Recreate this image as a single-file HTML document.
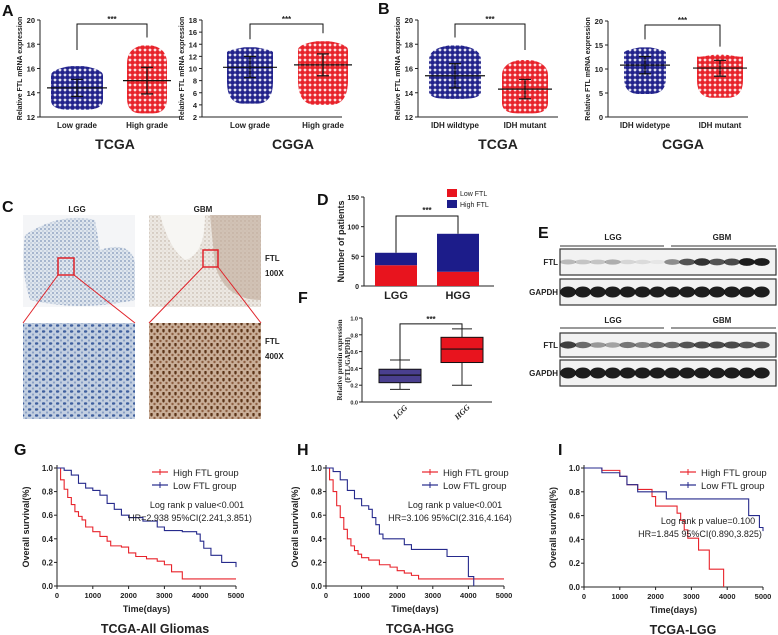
<!DOCTYPE html>
<html><head><meta charset="utf-8">
<style>
html,body{margin:0;padding:0;background:#fff;}
svg{display:block;font-family:"Liberation Sans",Arial,sans-serif;}
</style></head>
<body>
<svg id="fig" width="778" height="635" viewBox="0 0 778 635" xmlns="http://www.w3.org/2000/svg">
<defs>
<pattern id="dotB" width="5" height="5" patternUnits="userSpaceOnUse"><rect width="5" height="5" fill="#fff"/><circle cx="2.5" cy="2.5" r="2.5" fill="#22238c"/></pattern>
<pattern id="dotR" width="5" height="5" patternUnits="userSpaceOnUse"><rect width="5" height="5" fill="#fff"/><circle cx="2.5" cy="2.5" r="2.5" fill="#e8232b"/></pattern>
<pattern id="ihcB" width="4" height="4" patternUnits="userSpaceOnUse"><rect width="4" height="4" fill="#dfe6ee"/><circle cx="1" cy="1" r="0.9" fill="#7f95b8"/><circle cx="3" cy="3" r="0.7" fill="#a9b8cf"/></pattern>
<pattern id="ihcG" width="4" height="4" patternUnits="userSpaceOnUse"><rect width="4" height="4" fill="#ece8e2"/><circle cx="1" cy="1" r="0.7" fill="#b9a89a"/><circle cx="3" cy="3" r="0.5" fill="#d0c5bb"/></pattern>
<pattern id="ihcB4" width="7" height="6" patternUnits="userSpaceOnUse"><rect width="7" height="6" fill="#c3cfe0"/><ellipse cx="1.5" cy="1.5" rx="1.8" ry="1.2" fill="#3f5f9e"/><circle cx="5" cy="4.5" r="1.1" fill="#8aa0c6"/></pattern>
<pattern id="ihcG4" width="6" height="7" patternUnits="userSpaceOnUse"><rect width="6" height="7" fill="#c9ae98"/><ellipse cx="1.5" cy="1.5" rx="1.2" ry="2" fill="#5d3519"/><circle cx="4.5" cy="5" r="1.2" fill="#8d5f42"/></pattern>
</defs>
<g id="root"></g>
</svg>
<script>
// ---------- data ----------
// Panel A/B scatter summaries: [mean, lowerSD, upperSD, min, max]
const aTcgaCats = ["Low grade","High grade"];
const aTcgaStats = [[14.4,13.7,15.1,12.6,16.2],[15.0,13.9,16.1,12.3,17.9]];
const aCggaCats = ["Low grade","High grade"];
const aCggaStats = [[10.2,8.5,12.0,4.2,13.5],[10.6,8.8,12.4,4.0,14.5]];
const bTcgaCats = ["IDH wildtype","IDH mutant"];
const bTcgaStats = [[15.4,14.4,16.4,13.5,17.9],[14.3,13.5,15.1,12.3,16.7]];
const bCggaCats = ["IDH widetype","IDH mutant"];
const bCggaStats = [[10.8,9.0,12.6,4.8,14.5],[10.2,8.5,11.8,4.0,13.0]];
const aTcgaTicks = [12,14,16,18,20];
const aCggaTicks = [2,4,6,8,10,12,14,16,18];
const bCggaTicks = [0,5,10,15,20];
// Panel D
const dCats = ["LGG","HGG"];
const dLow = [35,24];
const dHigh = [21,64];
const dTicks = [0,50,100,150];
// Panel F box: [min,q1,median,q3,max]
const fCats = ["LGG","HGG"];
const fBox = [[0.15,0.23,0.32,0.39,0.50],[0.20,0.47,0.63,0.77,0.87]];
const fTicks = [0,0.2,0.4,0.6,0.8,1.0];
// KM curves
const gHighT=[0,100,200,300,400,500,600,700,800,1000,1200,1400,1500,1800,2000,2200,2500,2800,3000,3200,3500,5000];
const gHighS=[1,.9,.82,.75,.69,.63,.59,.56,.5,.46,.42,.38,.34,.33,.28,.25,.23,.21,.18,.12,.06,.06];
const gLowT=[0,200,400,600,800,1000,1200,1400,1600,1800,2000,2400,2800,3000,3500,3900,4000,4100,4300,4600,5000];
const gLowS=[1,.98,.94,.87,.83,.81,.77,.7,.65,.6,.58,.55,.5,.47,.46,.44,.38,.32,.26,.2,.16];
const hHighT=[0,100,200,300,400,500,600,700,800,900,1000,1200,1500,1800,2000,2200,2400,2600,5000];
const hHighS=[1,.9,.8,.68,.58,.48,.4,.34,.3,.27,.24,.22,.18,.16,.13,.11,.09,.06,.06];
const hLowT=[0,200,400,600,800,1000,1200,1300,1400,1500,1600,1800,2200,2400,2800,3400,4000,4100,4150];
const hLowS=[1,.97,.9,.81,.74,.68,.65,.58,.52,.44,.4,.4,.35,.31,.31,.25,.08,.08,0];
const iHighT=[0,500,1000,1200,1500,1900,2000,2600,2700,2800,2900,3200,3500,3900];
const iHighS=[1,.98,.93,.86,.82,.76,.68,.62,.56,.48,.41,.31,.15,0];
const iLowT=[0,500,1000,1200,1500,2300,4600,4900,5000];
const iLowS=[1,.96,.93,.86,.8,.74,.6,.5,.47];
const kmXTicks=[0,1000,2000,3000,4000,5000];
const kmYTicks=[0,0.2,0.4,0.6,0.8,1.0];

// ---------- helpers ----------
const NS="http://www.w3.org/2000/svg";
const root=document.getElementById('root');
function el(tag,attrs,parent,text){const e=document.createElementNS(NS,tag);for(const k in attrs)e.setAttribute(k,attrs[k]);if(text!==undefined)e.textContent=text;(parent||root).appendChild(e);return e;}
function grp(name,parent){const g=el('g',{},parent);return g;}
function txt(parent,x,y,s,opts,name){const o=Object.assign({x:x,y:y,'font-size':8,'font-weight':'bold','text-anchor':'middle',fill:'#222'},opts||{});const t=el('text',o,parent,s);return t;}
function lin(p,x1,y1,x2,y2,c,w){return el('line',{x1:x1,y1:y1,x2:x2,y2:y2,stroke:c||'#222','stroke-width':w||1},p);}

// ---------- scatter panel ----------
function scatter(name,ax,yTop,yBot,vmin,vmax,ticks,cats,stats,xs,widths,title,tx){
  const g=grp(name);
  const y=v=>yBot-(v-vmin)/(vmax-vmin)*(yBot-yTop);
  lin(g,ax,yTop,ax,yBot);
  lin(g,ax,yBot,ax+140,yBot);
  ticks.forEach(t=>{lin(g,ax-3,y(t),ax,y(t));txt(g,ax-5,y(t)+3,String(t),{'text-anchor':'end','font-size':7.5},'y-tick-label');});
  txt(g,0,0,'Relative FTL mRNA expression',{'font-size':7,transform:`translate(${ax-18},${(yTop+yBot)/2}) rotate(-90)`},'y-axis-title');
  stats.forEach((s,i)=>{
    const w=widths[i]/2;const fill=i===0?'url(#dotB)':'url(#dotR)';const c=xs[i];
    const yMax=y(s[4]),yMin=y(s[3]),yU=y(s[2])-4,yL=y(s[1])+4;
    const d=`M${c-w*0.25},${yMax} L${c+w*0.25},${yMax} Q${c+w},${yMax+3} ${c+w},${yU} L${c+w},${yL} Q${c+w},${yMin} ${c+w*0.3},${yMin} L${c-w*0.3},${yMin} Q${c-w},${yMin} ${c-w},${yL} L${c-w},${yU} Q${c-w},${yMax+3} ${c-w*0.25},${yMax}Z`;
    const r=el('path',{d:d,fill:fill},g);
    
    lin(g,c-w-4,y(s[0]),c+w+4,y(s[0]),'#111',1.2);
    lin(g,c,y(s[1]),c,y(s[2]),'#111',1.2);
    lin(g,c-6,y(s[1]),c+6,y(s[1]),'#111',1.2);
    lin(g,c-6,y(s[2]),c+6,y(s[2]),'#111',1.2);
    txt(g,c,yBot+11,cats[i],{'font-size':8,'font-weight':'bold'},'x-tick-label');
  });
  const by=yTop+4;
  el('polyline',{points:`${xs[0]},${Math.min(y(stats[0][4])-8,by+26)} ${xs[0]},${by} ${xs[1]},${by} ${xs[1]},${Math.min(y(stats[1][4])-8,by+26)}`,fill:'none',stroke:'#111','stroke-width':1},g);
  txt(g,(xs[0]+xs[1])/2,by-2,'***',{'font-size':8},'significance');
  txt(g,tx,yBot+32,title,{'font-size':14},'panel-title');
}
scatter('panel-a-tcga',40,20,117,12,20,aTcgaTicks,aTcgaCats,aTcgaStats,[77,147],[52,40],'TCGA',115);
scatter('panel-a-cgga',202,20,117,2,18,aCggaTicks,aCggaCats,aCggaStats,[250,323],[46,50],'CGGA',293);
scatter('panel-b-tcga',418,20,117,12,20,aTcgaTicks,bTcgaCats,bTcgaStats,[455,525],[52,46],'TCGA',498);
scatter('panel-b-cgga',608,21,117,0,20,bCggaTicks,bCggaCats,bCggaStats,[645,720],[42,46],'CGGA',683);
const lab=(s,x,y)=>txt(grp('panel-letter-'+s),x,y,s,{'font-size':16,'text-anchor':'start',fill:'#111'},'panel-letter');
lab('A',2,16);lab('B',378,14);lab('C',2,212);lab('D',317,205);lab('E',538,238);lab('F',298,303);
lab('G',14,455);lab('H',297,455);lab('I',558,455);

// ---------- panel C (IHC) ----------
(function(){
  const g=grp('panel-c-ihc');
  txt(g,77,212,'LGG',{'font-size':8});txt(g,203,212,'GBM',{'font-size':8});
  el('rect',{x:23,y:215,width:112,height:92,fill:'#f4f5f7'},g);
  el('path',{d:'M25 235 Q60 212 95 220 L100 250 Q130 240 135 262 L135 300 Q80 312 30 300 Q20 270 25 235Z',fill:'url(#ihcB)'},g);
  el('rect',{x:149,y:215,width:112,height:92,fill:'url(#ihcG)'},g);
  el('path',{d:'M160 215 Q170 250 185 260 Q205 255 205 215Z',fill:'#f7f6f3'},g);
  el('path',{d:'M210 215 L261 215 L261 300 Q225 300 215 265Z',fill:'#c0a898',opacity:0.6},g);
  el('rect',{x:23,y:323,width:112,height:96,fill:'url(#ihcB4)'},g);
  el('rect',{x:149,y:323,width:112,height:96,fill:'url(#ihcG4)'},g);
  el('rect',{x:58,y:258,width:16,height:17,fill:'none',stroke:'#e0232a','stroke-width':1.5},g);
  el('rect',{x:203,y:250,width:15,height:17,fill:'none',stroke:'#e0232a','stroke-width':1.5},g);
  lin(g,58,275,23,323,'#e0232a',1);lin(g,74,275,135,323,'#e0232a',1);
  lin(g,203,267,149,323,'#e0232a',1);lin(g,218,267,261,323,'#e0232a',1);
  txt(g,265,261,'FTL',{'font-size':8,'text-anchor':'start'});txt(g,265,276,'100X',{'font-size':8,'text-anchor':'start'});
  txt(g,265,344,'FTL',{'font-size':8,'text-anchor':'start'});txt(g,265,359,'400X',{'font-size':8,'text-anchor':'start'});
})();

// ---------- panel D ----------
(function(){
  const g=grp('panel-d-stacked-bar');
  const ax=364,yT=197,yB=286,max=150;
  const y=v=>yB-v/max*(yB-yT);
  lin(g,ax,yT,ax,yB);lin(g,ax,yB,ax+130,yB);
  dTicks.forEach(t=>{lin(g,ax-3,y(t),ax,y(t));txt(g,ax-5,y(t)+3,String(t),{'font-size':7,'text-anchor':'end'},'y-tick-label');});
  txt(g,0,0,'Number of patients',{'font-size':9,transform:`translate(${ax-20},${(yT+yB)/2}) rotate(-90)`},'y-axis-title');
  const xs=[396,458],w=42;
  dCats.forEach((c,i)=>{
    const r1=el('rect',{x:xs[i]-w/2,y:y(dLow[i]),width:w,height:yB-y(dLow[i]),fill:'#e8141e'},g);
    
    const r2=el('rect',{x:xs[i]-w/2,y:y(dLow[i]+dHigh[i]),width:w,height:y(dLow[i])-y(dLow[i]+dHigh[i]),fill:'#1c1c8a'},g);
    
    txt(g,xs[i],yB+13,c,{'font-size':11},'x-tick-label');
  });
  const by=y(118);
  el('polyline',{points:`${xs[0]},${y(dLow[0]+dHigh[0])} ${xs[0]},${by} ${xs[1]},${by} ${xs[1]},${y(dLow[1]+dHigh[1])}`,fill:'none',stroke:'#111'},g);
  txt(g,(xs[0]+xs[1])/2,by-3,'***',{'font-size':8});
  const lg=grp('legend',g);
  el('rect',{x:447,y:189,width:10,height:8,fill:'#e8141e'},lg);txt(lg,460,196,'Low FTL',{'font-size':7,'text-anchor':'start','font-weight':'normal'},'legend-entry');
  el('rect',{x:447,y:200,width:10,height:8,fill:'#1c1c8a'},lg);txt(lg,460,207,'High FTL',{'font-size':7,'text-anchor':'start','font-weight':'normal'},'legend-entry');
})();

// ---------- panel F ----------
(function(){
  const g=grp('panel-f-boxplot');
  const ax=362,yT=318,yB=402;
  const y=v=>yB-v*(yB-yT);
  lin(g,ax,yT,ax,yB);lin(g,ax,yB,ax+130,yB);
  fTicks.forEach(t=>{lin(g,ax-3,y(t),ax,y(t));txt(g,ax-4,y(t)+2.5,t.toFixed(1),{'font-size':5.5,'text-anchor':'end'},'y-tick-label');});
  txt(g,0,0,'Relative protein expression',{'font-size':7,'font-family':'Liberation Serif',transform:`translate(${ax-20},${(yT+yB)/2}) rotate(-90)`},'y-axis-title');
  txt(g,0,0,'(FTL/GAPDH)',{'font-size':7,'font-family':'Liberation Serif',transform:`translate(${ax-12},${(yT+yB)/2}) rotate(-90)`},'y-axis-title');
  const xs=[400,462],w=42,cols=['#4a3f8f','#e8141e'];
  fBox.forEach((b,i)=>{
    const x=xs[i];
    lin(g,x,y(b[0]),x,y(b[1]));lin(g,x,y(b[3]),x,y(b[4]));
    lin(g,x-10,y(b[0]),x+10,y(b[0]));lin(g,x-10,y(b[4]),x+10,y(b[4]));
    const r=el('rect',{x:x-w/2,y:y(b[3]),width:w,height:y(b[1])-y(b[3]),fill:cols[i],stroke:'#111'},g);
    
    lin(g,x-w/2,y(b[2]),x+w/2,y(b[2]),'#111',1.2);
    txt(g,0,0,fCats[i],{'font-size':8,'font-family':'Liberation Serif','font-style':'italic',transform:`translate(${x+2},${yB+12}) rotate(-45)`},'x-tick-label');
  });
  const by=y(0.93);
  el('polyline',{points:`${xs[0]},${y(0.5)} ${xs[0]},${by} ${xs[1]},${by} ${xs[1]},${y(0.87)}`,fill:'none',stroke:'#111'},g);
  txt(g,(xs[0]+xs[1])/2,by-2,'***',{'font-size':8});
})();

// ---------- panel E (western blot) ----------
const eFtl1=[0.25,0.2,0.2,0.3,0.12,0.1,0.05,0.45,0.7,0.85,0.7,0.75,0.95,0.95];
const eFtl2=[0.8,0.6,0.4,0.35,0.55,0.5,0.6,0.6,0.7,0.75,0.75,0.75,0.7,0.7];
(function(){
  const g=grp('panel-e-western');
  function box(y,h,vals,label,thick){
    el('rect',{x:560,y:y,width:216,height:h,fill:'#f2f2f2',stroke:'#333','stroke-width':1.2},g);
    vals.forEach((v,i)=>{
      const cx=568+i*14.9;
      const e=el('ellipse',{cx:cx,cy:y+h/2,rx:8,ry:thick?5.5:2+2*v,fill:'#111',opacity:thick?0.95:v},g);
      
    });
    txt(g,558,y+h/2+3,label,{'font-size':8,'text-anchor':'end'},'row-label');
  }
  const gap=[1,1,1,1,1,1,1,1,1,1,1,1,1,1];
  txt(g,613,240,'LGG',{'font-size':8});txt(g,722,240,'GBM',{'font-size':8});
  lin(g,560,246,664,246,'#333');lin(g,671,246,776,246,'#333');
  box(249,26,eFtl1,'FTL',false);box(279,26,gap,'GAPDH',true);
  txt(g,613,323,'LGG',{'font-size':8});txt(g,722,323,'GBM',{'font-size':8});
  lin(g,560,328,664,328,'#333');lin(g,671,328,776,328,'#333');
  box(333,24,eFtl2,'FTL',false);box(360,26,gap,'GAPDH',true);
})();

// ---------- KM panels ----------
function km(name,x0,x1,yT,yB,hT,hS,lT,lS,legX,p1,p1x,p1y,p2,p2x,p2y,title,titleX){
  const g=grp(name);
  const x=t=>x0+t/5000*(x1-x0);
  const y=s=>yB-s*(yB-yT);
  lin(g,x0,yT-3,x0,yB);lin(g,x0,yB,x1,yB);
  kmYTicks.forEach(t=>{lin(g,x0-3,y(t),x0,y(t));txt(g,x0-4,y(t)+3,t.toFixed(1),{'font-size':8,'text-anchor':'end'},'y-tick-label');});
  kmXTicks.forEach(t=>{lin(g,x(t),yB,x(t),yB+3);txt(g,x(t),yB+12,String(t),{'font-size':7.5},'x-tick-label');});
  txt(g,0,0,'Overall survival(%)',{'font-size':9,transform:`translate(${x0-28},${(yT+yB)/2}) rotate(-90)`},'y-axis-title');
  txt(g,(x0+x1)/2,yB+26,'Time(days)',{'font-size':9},'x-axis-title');
  txt(g,titleX,yB+47,title,{'font-size':12.5},'panel-title');
  function step(T,S,col,nm){
    let d=`M${x(T[0])},${y(S[0])}`;
    for(let i=1;i<T.length;i++){d+=` H${x(T[i])} V${y(S[i])}`;}
    const p=el('path',{d:d,fill:'none',stroke:col,'stroke-width':1.1},g);
    
  }
  step(hT,hS,'#e8232b','curve-high-ftl');step(lT,lS,'#262a8c','curve-low-ftl');
  const lg=grp('legend',g);
  lin(lg,legX,yT+4,legX+16,yT+4,'#e8232b',1.2);lin(lg,legX+8,yT+1,legX+8,yT+7,'#e8232b',1);
  txt(lg,legX+21,yT+8,'High FTL group',{'font-size':9.5,'font-weight':'normal','text-anchor':'start'},'legend-entry');
  lin(lg,legX,yT+17,legX+16,yT+17,'#262a8c',1.2);lin(lg,legX+8,yT+14,legX+8,yT+20,'#262a8c',1);
  txt(lg,legX+21,yT+21,'Low FTL group',{'font-size':9.5,'font-weight':'normal','text-anchor':'start'},'legend-entry');
  txt(g,p1x,p1y,p1,{'font-size':9,'font-weight':'normal'},'stat-text');
  txt(g,p2x,p2y,p2,{'font-size':9,'font-weight':'normal'},'stat-text');
}
km('panel-g-km',57,236,468,586,gHighT,gHighS,gLowT,gLowS,152,'Log rank p value<0.001',197,508,'HR=2.938  95%CI(2.241,3.851)',190,521,'TCGA-All Gliomas',155);
km('panel-h-km',326,504,468,586,hHighT,hHighS,hLowT,hLowS,422,'Log rank p value<0.001',455,508,'HR=3.106  95%CI(2.316,4.164)',450,521,'TCGA-HGG',420);
km('panel-i-km',584,763,468,587,iHighT,iHighS,iLowT,iLowS,680,'Log rank p value=0.100',708,524,'HR=1.845  95%CI(0.890,3.825)',700,537,'TCGA-LGG',683);
</script>
</body></html>
